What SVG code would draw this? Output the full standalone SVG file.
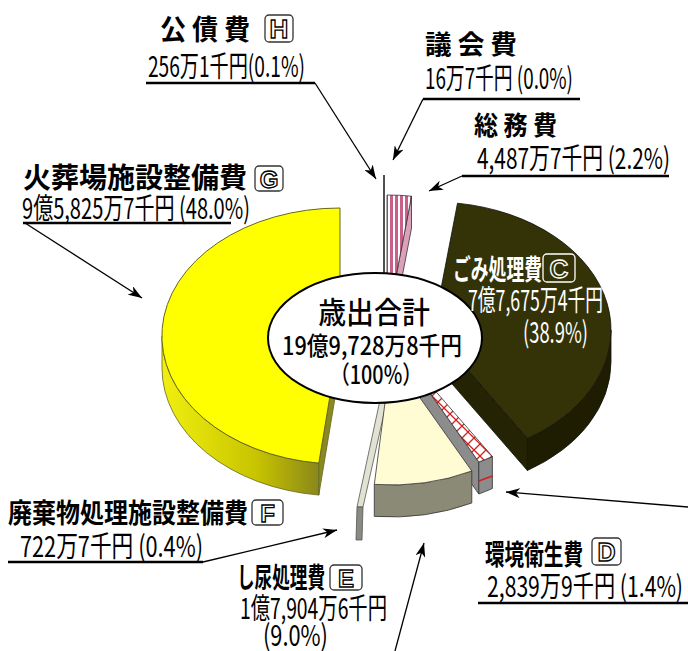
<svg xmlns="http://www.w3.org/2000/svg" width="688" height="651" viewBox="0 0 688 651">
<style>
text{font-family:"Noto Sans CJK JP","Noto Sans CJK SC",sans-serif;fill:#000}
.h{font-weight:700}
.n{font-weight:400;font-size:29px}
.w{fill:#fff}
.ul{stroke:#000;stroke-width:2.5;fill:none}
.ld{stroke:#000;stroke-width:1.3;fill:none;marker-end:url(#ah)}
.bx{fill:#fff;stroke:#333;stroke-width:1.3}
.lt{font-family:"Liberation Sans",Arial,sans-serif;font-weight:700;fill:#fff;stroke:#000;stroke-width:1.3;text-anchor:middle}
.edge{stroke:#333;stroke-width:0.8}
</style>
<defs>
<marker id="ah" viewBox="0 0 14 10" refX="14" refY="5" markerWidth="14" markerHeight="10" markerUnits="userSpaceOnUse" orient="auto">
<path d="M0,0 L14,5 L0,10 L4,5 Z" fill="#000"/>
</marker>
<pattern id="stripe" width="5" height="10" patternUnits="userSpaceOnUse">
<rect width="5" height="10" fill="#fff"/>
<rect width="3" height="10" fill="#c8608a"/>
</pattern>
<pattern id="xh" width="12" height="12" patternUnits="userSpaceOnUse">
<rect width="12" height="12" fill="#fff"/>
<path d="M0,0 L12,12 M12,0 L0,12" stroke="#d02020" stroke-width="1.3"/>
</pattern>
<linearGradient id="gside" x1="160" y1="0" x2="335" y2="0" gradientUnits="userSpaceOnUse">
<stop offset="0" stop-color="#f2f010"/>
<stop offset="0.55" stop-color="#c8c400"/>
<stop offset="1" stop-color="#7a7820"/>
</linearGradient>
</defs>

<g id="pie">
<g id="slice-H">
<line x1="384" y1="175" x2="384" y2="295" stroke="#505050" stroke-width="2"/>
</g>
<g id="slice-soumu">
<path d="M387,323 L411.5,196.2 L411.5,228.2 L387,355 Z" fill="#dca0b8" class="edge"/>
<path d="M387,323 L387,195 A178,128 0 0,1 411.5,196.2 Z" fill="url(#stripe)" class="edge"/>
</g>
<g id="slice-C">
<path d="M611,330 A178,128 0 0,1 527.4,438.5 L527.4,470.5 A178,128 0 0,0 611,362 Z" fill="#1e1d02" stroke="#111" stroke-width="0.8"/>
<path d="M433,330 L527.4,438.5 L527.4,470.5 L433,362 Z" fill="#242303" stroke="#111" stroke-width="0.8"/>
<path d="M433,330 L457.5,203.2 A178,128 0 0,1 527.4,438.5 Z" fill="#343307" stroke="#111" stroke-width="0.8"/>
</g>
<g id="slice-G">
<path d="M318.8,463.1 A178,128 0 0,1 162,336 L162,368 A178,128 0 0,0 318.8,495.1 Z" fill="url(#gside)" stroke="#666620" stroke-width="0.8"/>
<path d="M340,336 L318.8,463.1 L318.8,495.1 L340,368 Z" fill="#8a8820" stroke="#666620" stroke-width="0.8"/>
<path d="M340,336 L318.8,463.1 A178,128 0 0,1 340,208 Z" fill="#ffff00" stroke="#666620" stroke-width="1"/>
</g>
<g id="slice-D">
<path d="M398,348 L478.8,462 L478.8,494 L398,380 Z" fill="#8c8c8c" class="edge"/>
<path d="M492.4,456.5 A178,128 0 0,1 478.8,462 L478.8,494 A178,128 0 0,0 492.4,488.5 Z" fill="#8c8c8c" class="edge"/>
<line x1="478.8" y1="481" x2="492.4" y2="476" stroke="#d02020" stroke-width="1.5"/>
<path d="M398,348 L492.4,456.5 A178,128 0 0,1 478.8,462 Z" fill="url(#xh)" class="edge"/>
</g>
<g id="slice-F">
<path d="M380,400 L387,400 L363,507 L357,507 Z" fill="#e2e2d2" stroke="#555" stroke-width="0.8"/>
<path d="M357,507 L363,507 L362,540 L356,540 Z" fill="#8a8a80" stroke="#555" stroke-width="0.8"/>
</g>
<g id="slice-E">
<path d="M471.8,471 A178,128 0 0,1 374.3,484.4 L374.3,516.4 A178,128 0 0,0 471.8,503 Z" fill="#8a8a76" class="edge"/>
<path d="M391,357 L471.8,471 A178,128 0 0,1 374.3,484.4 Z" fill="#fffcd4" class="edge"/>
</g>
</g>

<g id="total">
<ellipse cx="375" cy="338" rx="107" ry="65" fill="#fff" stroke="#000" stroke-width="2"/>
<text transform="translate(374,323) scale(0.93,1)" font-size="30" font-weight="500" text-anchor="middle" textLength="120" lengthAdjust="spacingAndGlyphs">歳出合計</text>
<text transform="translate(372,355) scale(0.89,1)" font-size="25" font-weight="500" text-anchor="middle" textLength="202" lengthAdjust="spacingAndGlyphs">19億9,728万8千円</text>
<text transform="translate(376,384) scale(0.81,1)" font-size="25" font-weight="500" text-anchor="middle" textLength="113.6" lengthAdjust="spacingAndGlyphs">（100%）</text>
</g>

<g id="label-C">
<text class="h w" transform="translate(453,280) scale(0.64,1)" font-size="28" textLength="139" lengthAdjust="spacingAndGlyphs">ごみ処理費</text>
<rect x="543" y="254" width="32" height="28" rx="4" fill="none" stroke="#fff" stroke-width="1.3"/>
<text class="lt" x="559" y="278" font-size="26" style="fill:#343307;stroke:#fff">C</text>
<text class="n w" transform="translate(468,311) scale(0.62,1)" textLength="217.7" lengthAdjust="spacingAndGlyphs">7億7,675万4千円</text>
<text class="n w" transform="translate(523,343) scale(0.65,1)" textLength="100" lengthAdjust="spacingAndGlyphs">(38.9%)</text>
</g>

<g id="label-H">
<text class="h" transform="translate(160,40) scale(0.93,1)" font-size="28" textLength="96.8" lengthAdjust="spacingAndGlyphs">公 債 費</text>
<rect class="bx" x="265" y="15" width="28" height="27" rx="4"/>
<text class="lt" x="279" y="38" font-size="26">H</text>
<text class="n" transform="translate(148,77) scale(0.67,1)" textLength="234.3" lengthAdjust="spacingAndGlyphs">256万1千円(0.1%)</text>
</g>

<g id="label-gikai">
<text class="h" x="425" y="54" font-size="26" textLength="92" lengthAdjust="spacingAndGlyphs">議 会 費</text>
<text class="n" transform="translate(425,89) scale(0.66,1)" textLength="224.2" lengthAdjust="spacingAndGlyphs">16万7千円 (0.0%)</text>
</g>

<g id="label-soumu">
<text class="h" transform="translate(474,135) scale(0.92,1)" font-size="26" textLength="90.2" lengthAdjust="spacingAndGlyphs">総 務 費</text>
<text class="n" transform="translate(477,169) scale(0.73,1)" textLength="264.4" lengthAdjust="spacingAndGlyphs">4,487万7千円 (2.2%)</text>
</g>

<g id="label-G">
<text class="h" transform="translate(23,188) scale(0.97,1)" font-size="29" textLength="231" lengthAdjust="spacingAndGlyphs">火葬場施設整備費</text>
<rect class="bx" x="255" y="166" width="28" height="25" rx="4"/>
<text class="lt" x="269" y="188" font-size="24">G</text>
<text class="n" transform="translate(22,219) scale(0.70,1)" textLength="325.7" lengthAdjust="spacingAndGlyphs">9億5,825万7千円 (48.0%)</text>
</g>

<g id="label-F">
<text class="h" transform="translate(8,523) scale(0.89,1)" font-size="27" textLength="269.7" lengthAdjust="spacingAndGlyphs">廃棄物処理施設整備費</text>
<rect class="bx" x="252" y="500" width="31" height="25" rx="4"/>
<text class="lt" x="267.5" y="522" font-size="24">F</text>
<text class="n" transform="translate(20,557) scale(0.76,1)" textLength="240.8" lengthAdjust="spacingAndGlyphs">722万7千円 (0.4%)</text>
</g>

<g id="label-E">
<text class="h" transform="translate(237,588) scale(0.63,1)" font-size="28" textLength="139.7" lengthAdjust="spacingAndGlyphs">し尿処理費</text>
<rect class="bx" x="330" y="565" width="32" height="25" rx="4"/>
<text class="lt" x="346" y="587" font-size="24">E</text>
<text class="n" transform="translate(240,619) scale(0.67,1)" textLength="219.4" lengthAdjust="spacingAndGlyphs">1億7,904万6千円</text>
<text class="n" transform="translate(263,646) scale(0.77,1)" textLength="84.4" lengthAdjust="spacingAndGlyphs">(9.0%)</text>
</g>

<g id="label-D">
<text class="h" transform="translate(485,565) scale(0.70,1)" font-size="28" textLength="140" lengthAdjust="spacingAndGlyphs">環境衛生費</text>
<rect class="bx" x="592" y="538" width="29" height="27" rx="4"/>
<text class="lt" x="606.5" y="561" font-size="25">D</text>
<text class="n" transform="translate(487,597) scale(0.74,1)" textLength="264.9" lengthAdjust="spacingAndGlyphs">2,839万9千円 (1.4%)</text>
</g>

<g id="connectors">
<line class="ul" x1="146" y1="83" x2="315" y2="83"/>
<line class="ld" x1="315" y1="83" x2="376" y2="179"/>
<line class="ul" x1="423" y1="99" x2="580" y2="99"/>
<line class="ld" x1="423" y1="99" x2="393" y2="160"/>
<line class="ul" x1="462" y1="176" x2="669" y2="176"/>
<line class="ld" x1="462" y1="176" x2="429" y2="191"/>
<line class="ul" x1="23" y1="223" x2="231" y2="223"/>
<line class="ld" x1="25" y1="223" x2="142" y2="298"/>
<line class="ul" x1="8" y1="562" x2="203" y2="562"/>
<line class="ld" x1="203" y1="562" x2="337" y2="530"/>
<line class="ld" x1="395" y1="651" x2="424" y2="543"/>
<line class="ul" x1="478" y1="603" x2="688" y2="603"/>
<line class="ld" x1="688" y1="507" x2="506" y2="492"/>
</g>
</svg>
